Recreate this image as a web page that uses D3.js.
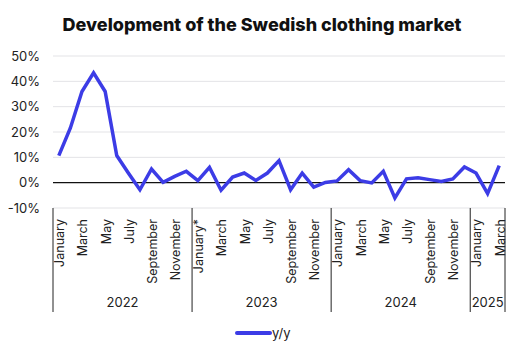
<!DOCTYPE html>
<html><head><meta charset="utf-8">
<script src="https://cdn.jsdelivr.net/npm/d3@7"></script>
<style>body{margin:0;background:#fff;}svg{display:block;font-family:"Inter","Liberation Sans",sans-serif;}</style>
</head><body><svg id="c" width="524" height="358"></svg>
<script>
const months = ["January","February","March","April","May","June","July","August","September","October","November","December"];
const years = ["2022","2023","2024","2025"];
const yearMonths = [12,12,12,3];
const values = [10.7,21.6,36,43.4,36,10.7,3.8,-2.8,5.4,0.1,2.5,4.5,
  0.8,6,-3,2.2,3.8,0.9,3.8,8.7,-2.8,3.8,-1.8,0.1,
  0.7,5.1,0.8,-0.1,4.5,-6,1.5,1.9,1.2,0.5,1.5,6.2,
  3.8,-4.3,6.7];
const yTicks = [-10,0,10,20,30,40,50];
const seriesName = "y/y";
const title = "Development of the Swedish clothing market";

const cats = [];
years.forEach((y,yi)=>{ for(let m=0;m<yearMonths[yi];m++) cats.push({key:y+"-"+m, year:y, m:m, label: months[m] + (y==="2023"&&m===0?"*":"")}); });
const data = cats.map((c,i)=>({...c, v: values[i]}));

const svg = d3.select("#c");
const L=53, R=505, T=56, B=208;
const x = d3.scaleBand().domain(cats.map(c=>c.key)).range([L,R]);
const y = d3.scaleLinear().domain([-10,50]).range([B,T]);
const color = "#3c3ce6";

svg.append("text").attr("x",262).attr("y",31).attr("text-anchor","middle")
  .attr("font-size",18).attr("font-weight",800).attr("fill","#111").text(title);

// grid
svg.append("g").selectAll("line").data(yTicks.filter(t=>t!==0)).join("line")
  .attr("x1",L).attr("x2",R).attr("y1",d=>y(d)).attr("y2",d=>y(d))
  .attr("stroke","#e3e3e6").attr("stroke-width",1);
// y labels
svg.append("g").selectAll("text").data(yTicks).join("text")
  .attr("x",40).attr("y",d=>y(d)).attr("dy","0.35em").attr("text-anchor","end")
  .attr("font-size",13).attr("fill","#222").text(d=>d+"%");

// month labels
svg.append("g").selectAll("text").data(data.filter(d=>d.m%2===0)).join("text")
  .attr("transform",d=>`translate(${x(d.key)+x.bandwidth()/2+1},219) rotate(-90)`)
  .attr("dy","0.35em").attr("text-anchor","end").attr("font-size",12.5).attr("fill","#222")
  .text(d=>d.label);

// year separators
let idx=0; const bounds=[0];
yearMonths.forEach(n=>{idx+=n; bounds.push(idx);});
svg.append("g").selectAll("line").data(bounds).join("line")
  .attr("x1",i=>i<cats.length?x(cats[i].key):R).attr("x2",i=>i<cats.length?x(cats[i].key):R)
  .attr("y1",208).attr("y2",312).attr("stroke","#222").attr("stroke-width",1);
svg.append("g").selectAll("text").data(years).join("text")
  .attr("x",(d,i)=>{const a=x(cats[bounds[i]].key); const b=bounds[i+1]<cats.length?x(cats[bounds[i+1]].key):R; return (a+b)/2;})
  .attr("y",307).attr("text-anchor","middle").attr("font-size",13).attr("fill","#222").text(d=>d);

// zero line
svg.append("line").attr("x1",L).attr("x2",R).attr("y1",y(0)).attr("y2",y(0)).attr("stroke","#111").attr("stroke-width",1.2);

// line
svg.append("path").datum(data).attr("fill","none").attr("stroke",color).attr("stroke-width",3.5)
  .attr("stroke-linejoin","miter").attr("d",d3.line().x(d=>x(d.key)+x.bandwidth()/2).y(d=>y(d.v)));

// legend
svg.append("line").attr("x1",237).attr("x2",270).attr("y1",333).attr("y2",333).attr("stroke",color).attr("stroke-width",4).attr("stroke-linecap","round");
svg.append("text").attr("x",272).attr("y",333).attr("dy","0.35em").attr("font-size",13).attr("fill","#222").text(seriesName);
</script></body></html>
